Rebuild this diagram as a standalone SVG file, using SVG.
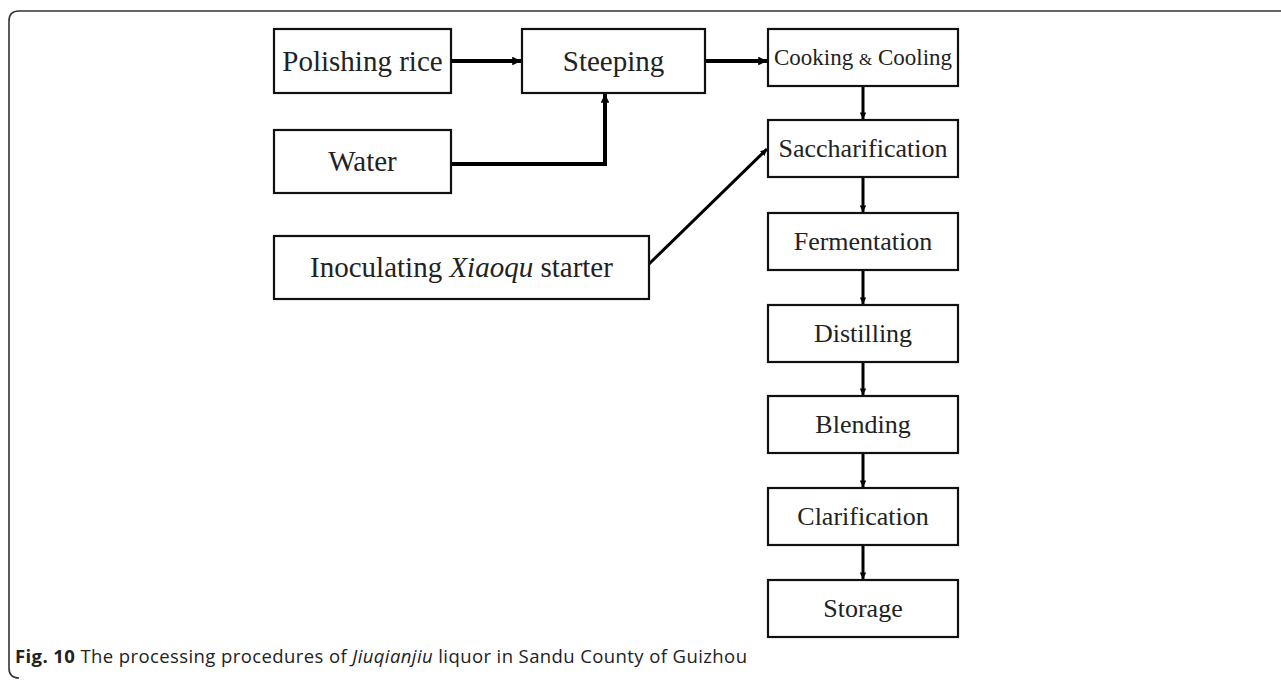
<svg xmlns="http://www.w3.org/2000/svg" width="1281" height="682" viewBox="0 0 1281 682">
<style>
.box{fill:#fff;stroke:#111;stroke-width:2.2}
.t{font-family:"Liberation Serif","Times New Roman",serif;font-size:26px;fill:#222;text-anchor:middle}
.tl{font-size:29px}
.ts{font-size:23px}
.amp{font-size:17px}
.c{fill:none;stroke:#000;stroke-width:4}
.thin{fill:none;stroke:#000;stroke-width:3}
.cap{font-family:"Open Sans","Noto Sans",sans-serif;font-size:18.5px;fill:#222}
</style>
<defs>
<marker id="ah" viewBox="0 0 6 6" refX="6" refY="3" markerWidth="2.2" markerHeight="2.2" orient="auto" markerUnits="strokeWidth">
<path d="M0,0 L6,3 L0,6 Z" fill="#000"/>
</marker>
</defs>
<rect width="1281" height="682" fill="#fff"/>
<path d="M1281,11 H19 Q9,11 9,21 V668 Q9,678 19,678" fill="none" stroke="#333" stroke-width="1.6"/>
<g id="connectors">
<line class="c" x1="451" y1="61" x2="521" y2="61" marker-end="url(#ah)"/>
<line class="c" x1="705" y1="61" x2="767" y2="61" marker-end="url(#ah)"/>
<path class="c" d="M451,164 H605 V94" stroke-width="5.5" marker-end="url(#ah)"/>
<line class="thin" x1="649" y1="264" x2="767" y2="149" marker-end="url(#ah)"/>
<line class="thin" x1="863" y1="86" x2="863" y2="119" marker-end="url(#ah)"/>
<line class="thin" x1="863" y1="177" x2="863" y2="212" marker-end="url(#ah)"/>
<line class="thin" x1="863" y1="270" x2="863" y2="304" marker-end="url(#ah)"/>
<line class="thin" x1="863" y1="362" x2="863" y2="395" marker-end="url(#ah)"/>
<line class="thin" x1="863" y1="453" x2="863" y2="487" marker-end="url(#ah)"/>
<line class="thin" x1="863" y1="545" x2="863" y2="579" marker-end="url(#ah)"/>
</g>
<g id="polishing"><rect class="box" x="274" y="29" width="177" height="64"/><text class="t tl" x="362.5" y="71">Polishing rice</text></g>
<g id="steeping"><rect class="box" x="522" y="29" width="183" height="64"/><text class="t tl" x="613.5" y="71">Steeping</text></g>
<g id="cooking"><rect class="box" x="768" y="29" width="190" height="57"/><text class="t ts" x="863" y="65">Cooking <tspan class="amp">&amp;</tspan> Cooling</text></g>
<g id="water"><rect class="box" x="274" y="130" width="177" height="63"/><text class="t tl" x="362.5" y="171">Water</text></g>
<g id="saccharification"><rect class="box" x="768" y="120" width="190" height="57"/><text class="t" x="863" y="157">Saccharification</text></g>
<g id="inoculating"><rect class="box" x="274" y="236" width="375" height="63"/><text class="t tl" x="461.5" y="277">Inoculating <tspan font-style="italic">Xiaoqu</tspan> starter</text></g>
<g id="fermentation"><rect class="box" x="768" y="213" width="190" height="57"/><text class="t" x="863" y="250">Fermentation</text></g>
<g id="distilling"><rect class="box" x="768" y="305" width="190" height="57"/><text class="t" x="863" y="342">Distilling</text></g>
<g id="blending"><rect class="box" x="768" y="396" width="190" height="57"/><text class="t" x="863" y="433">Blending</text></g>
<g id="clarification"><rect class="box" x="768" y="488" width="190" height="57"/><text class="t" x="863" y="525">Clarification</text></g>
<g id="storage"><rect class="box" x="768" y="580" width="190" height="57"/><text class="t" x="863" y="617">Storage</text></g>
<text class="cap" x="15" y="663" textLength="732" lengthAdjust="spacing"><tspan font-weight="bold">Fig. 10</tspan> The processing procedures of <tspan font-style="italic">Jiuqianjiu</tspan> liquor in Sandu County of Guizhou</text>
</svg>
